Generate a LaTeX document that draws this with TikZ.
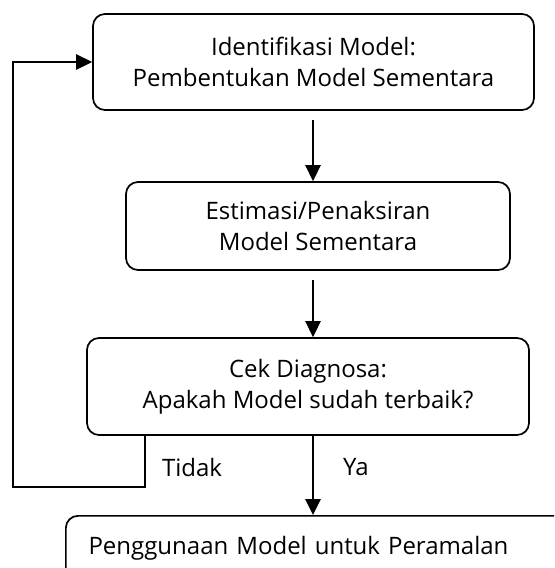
\documentclass[tikz,border=0pt]{standalone}
\usepackage{fontspec}
\setmainfont{Open Sans}
\usetikzlibrary{arrows.meta}

\tikzset{
  stepbox/.style={draw, line width=1.3pt, rounded corners=9pt, align=center,
    inner sep=0pt, font=\fontsize{18}{23}\selectfont},
  arr/.style={-{Triangle[length=12pt,width=11.5pt]}, line width=1.3pt},
  lbl/.style={font=\fontsize{18}{23}\selectfont},
}

\begin{document}
\begin{tikzpicture}[x=0.75pt, y=-0.75pt]
  \useasboundingbox (0,0) rectangle (554,568);
  \clip (0,0) rectangle (554,568);

  % the three steps of the loop
  \node[stepbox, minimum width=330.75pt, minimum height=72pt] (ident) at (313.5,62)
    {Identifikasi Model:\\Pembentukan Model Sementara};
  \node[stepbox, minimum width=288pt, minimum height=66pt] (estim) at (318,226)
    {Estimasi/Penaksiran\\Model Sementara};
  \node[stepbox, minimum width=331.5pt, minimum height=72.75pt] (cek) at (308,386.5)
    {Cek Diagnosa:\\Apakah Model sudah terbaik?};

  % last step, runs off the page
  \node[stepbox, anchor=north west, align=left, text width=400pt, inner xsep=17pt,
    minimum height=48pt] (guna) at (65,515) {Penggunaan Model untuk Peramalan};

  % connectors
  \coordinate (a1) at (313,120);
  \coordinate (a2) at (313,280);
  \draw[arr] (a1) -- (a1 |- estim.north);
  \draw[arr] (a2) -- (a2 |- cek.north);
  \draw[arr] (cek.south -| a1) -- (a1 |- guna.north);

  % back to the start
  \coordinate (t1) at (145,487);
  \coordinate (t2) at (13,62);
  \draw[arr] (cek.south -| t1) -- (t1) -| (t2) -- (ident.west);

  \node[lbl] (tidak) at (192,467) {Tidak};
  \node[lbl] (ya) at (356,467) {Ya};
\end{tikzpicture}
\end{document}
